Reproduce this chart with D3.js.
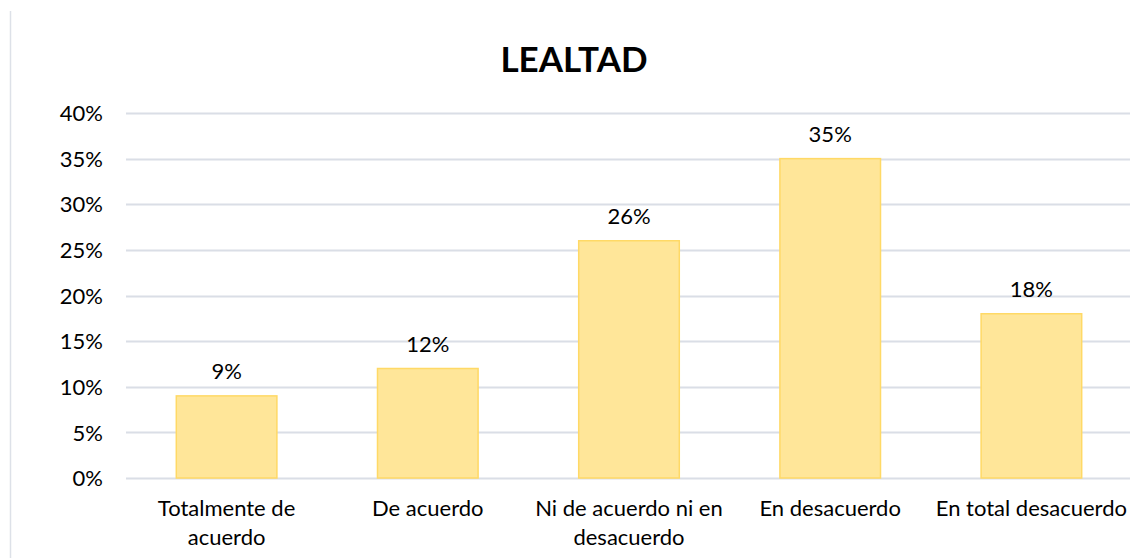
<!DOCTYPE html>
<html>
<head>
<meta charset="utf-8">
<script src="https://cdn.jsdelivr.net/npm/d3@7"></script>
<style>
  html, body { margin: 0; padding: 0; background: #fff; }
  svg { display: block; }
  text { font-family: Lato, "Open Sans", sans-serif; fill: #000; }
</style>
</head>
<body>
<svg id="chart" width="1130" height="558"></svg>
<script>
const title = "LEALTAD";
const categories = [
  ["Totalmente de", "acuerdo"],
  ["De acuerdo"],
  ["Ni de acuerdo ni en", "desacuerdo"],
  ["En desacuerdo"],
  ["En total desacuerdo"]
];
const values = [0.09, 0.12, 0.26, 0.35, 0.18];
const valueLabels = ["9%", "12%", "26%", "35%", "18%"];
const yTicks = [0, 0.05, 0.10, 0.15, 0.20, 0.25, 0.30, 0.35, 0.40];

const svg = d3.select("#chart");
const W = 1130, H = 558;
const plot = { left: 126, right: 1132, top: 113, bottom: 478 };

// chart area left border
svg.append("line")
  .attr("x1", 10.5).attr("x2", 10.5)
  .attr("y1", 11).attr("y2", H)
  .attr("stroke", "#dde1e8").attr("stroke-width", 1.5);

const x = d3.scaleBand()
  .domain(categories.map((d, i) => i))
  .range([plot.left, plot.right])
  .paddingInner(0.5)
  .paddingOuter(0.25);

const y = d3.scaleLinear().domain([0, 0.40]).range([plot.bottom, plot.top]);

// gridlines
svg.append("g")
  .selectAll("line")
  .data(yTicks)
  .join("line")
  .attr("x1", plot.left).attr("x2", W)
  .attr("y1", d => Math.round(y(d)) + 0.5)
  .attr("y2", d => Math.round(y(d)) + 0.5)
  .attr("stroke", "#dadee6").attr("stroke-width", 2);

// y axis labels
const yAxis = d3.axisLeft(y).tickValues(yTicks).tickFormat(d3.format(".0%")).tickSize(0).tickPadding(0);
const ya = svg.append("g").attr("transform", `translate(103,0)`).call(yAxis);
ya.select(".domain").remove();
ya.selectAll("text")
  .attr("font-family", "Lato, sans-serif")
  .attr("font-size", 22)
  .attr("fill", "#000")
  .attr("dy", "0.35em");

// bars
svg.append("g")
  .selectAll("rect")
  .data(values)
  .join("rect")
  .attr("x", (d, i) => x(i))
  .attr("y", d => y(d))
  .attr("width", x.bandwidth())
  .attr("height", d => y(0) - y(d))
  .attr("fill", "#ffe699")
  .attr("stroke", "#ffd966")
  .attr("stroke-width", 1.5);

// value labels
svg.append("g")
  .selectAll("text")
  .data(values)
  .join("text")
  .attr("x", (d, i) => x(i) + x.bandwidth() / 2)
  .attr("y", d => y(d) - 17)
  .attr("text-anchor", "middle")
  .attr("font-size", 22)
  .text((d, i) => valueLabels[i]);

// category labels
const cat = svg.append("g")
  .selectAll("text")
  .data(categories)
  .join("text")
  .attr("x", (d, i) => x(i) + x.bandwidth() / 2)
  .attr("y", 516)
  .attr("text-anchor", "middle")
  .attr("font-size", 22);
cat.selectAll("tspan")
  .data(d => d)
  .join("tspan")
  .attr("x", function() { return this.parentNode.getAttribute("x"); })
  .attr("dy", (d, j) => j === 0 ? 0 : 29)
  .text(d => d);

// title
svg.append("text")
  .attr("x", 574)
  .attr("y", 72)
  .attr("text-anchor", "middle")
  .attr("font-size", 35)
  .attr("font-weight", "bold")
  .text(title);
</script>
</body>
</html>
